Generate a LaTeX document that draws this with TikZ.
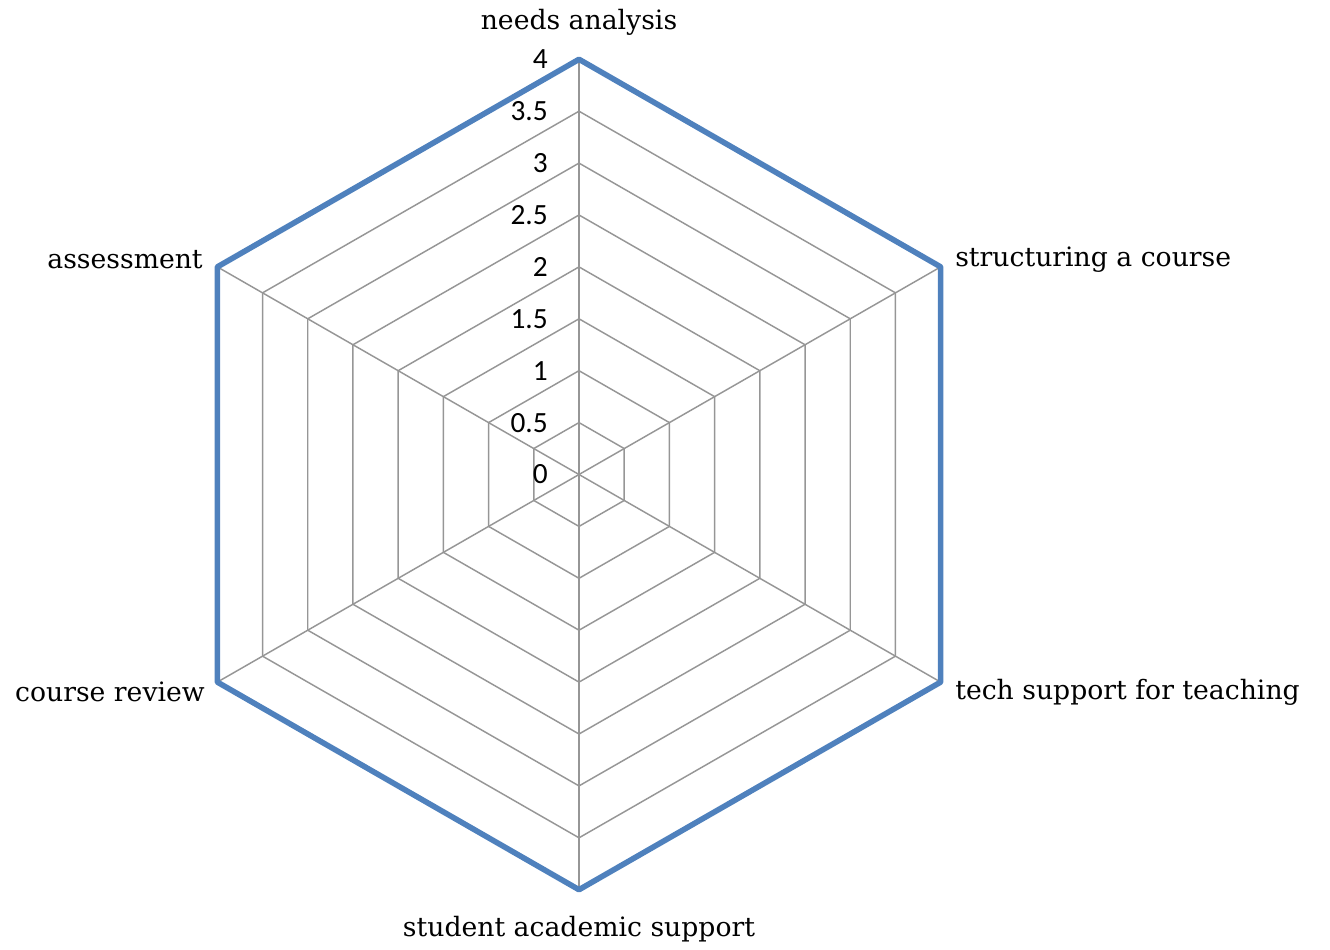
\documentclass[tikz,border=0pt]{standalone}
\usepackage{fontspec}
\setmainfont{DejaVu Serif}
\newfontfamily\numfont{Carlito}
\usetikzlibrary{calc}
\definecolor{gridgray}{RGB}{150,150,150}
\definecolor{seriesblue}{RGB}{79,129,189}
\begin{document}
\begin{tikzpicture}[x=0.75pt,y=-0.75pt,
  gridline/.style={draw=gridgray,line width=1.1pt},
  outerline/.style={draw=seriesblue,line width=4.2pt,line join=round},
  axislabel/.style={font=\numfont\fontsize{22}{22}\selectfont,anchor=east,inner sep=0pt},
  catlabel/.style={font=\fontsize{20}{20}\selectfont,inner sep=0pt}]
\useasboundingbox (0,0) rectangle (1330,949);
\coordinate (c) at (579,474.5);
% ring coordinates
\foreach \r in {1,...,8}{
  \foreach \k in {0,...,5}{
    \coordinate (r\r-\k) at ($(c)+({52.2*\r*cos(90-60*\k)},{-51.9*\r*sin(90-60*\k)})$);
  }
}
% inner rings
\foreach \r in {1,...,7}{
  \draw[gridline] (r\r-0) -- (r\r-1) -- (r\r-2) -- (r\r-3) -- (r\r-4) -- (r\r-5) -- cycle;
}
% spokes
\foreach \k in {0,...,5}{
  \draw[gridline] (c) -- (r8-\k);
}
% data series (all values = 4)
\draw[outerline] (r8-0) -- (r8-1) -- (r8-2) -- (r8-3) -- (r8-4) -- (r8-5) -- cycle;
% axis values
\foreach \i/\t in {0/0,1/0.5,2/1,3/1.5,4/2,5/2.5,6/3,7/3.5,8/4}{
  \node[axislabel] (n\i) at (548,{474.5-51.9*\i}) {\t};
}
% category labels
\node[catlabel,anchor=center] (needs) at (579,22) {needs analysis};
\node[catlabel,anchor=west] (struct) at (955,260) {structuring a course};
\node[catlabel,anchor=west] (tech) at (955,692) {tech support for teaching};
\node[catlabel,anchor=center] (student) at (579,929) {student academic support};
\node[catlabel,anchor=east] (review) at (205,692) {course review};
\node[catlabel,anchor=east] (assess) at (203,260) {assessment};
\end{tikzpicture}
\end{document}
